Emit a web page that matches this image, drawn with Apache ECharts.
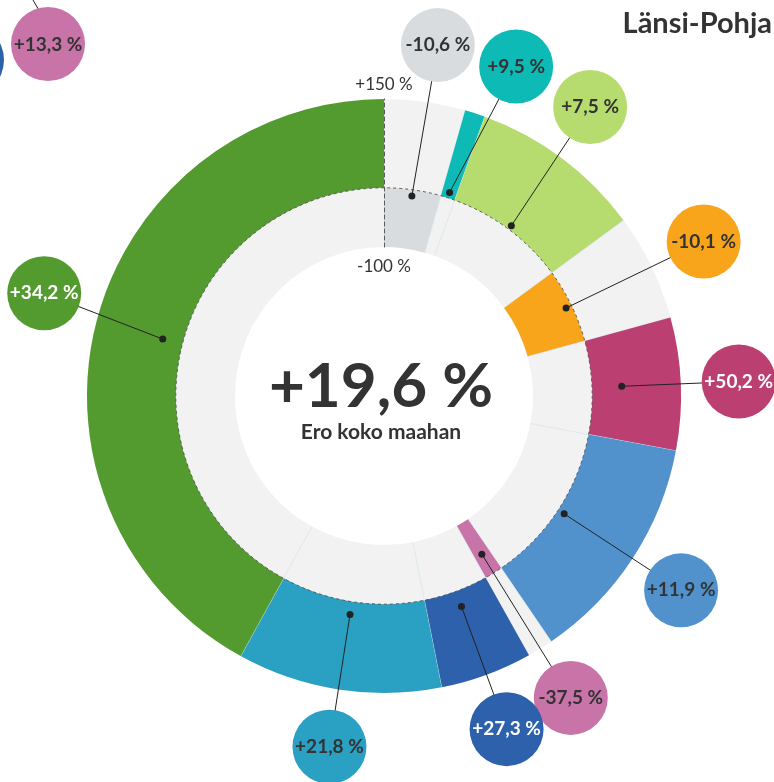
<!DOCTYPE html>
<html>
<head>
<meta charset="utf-8">
<title>Länsi-Pohja</title>
<script src="https://cdn.jsdelivr.net/npm/echarts@6/dist/echarts.min.js"></script>
<style>
html, body { margin: 0; padding: 0; background: #fff; }
#main { width: 774px; height: 782px; }
</style>
</head>
<body>
<div id="main"></div>
<script>
// osuus (kulma, %) ja ero koko maahan (säde, %)
var shares = [4.4, 1.1, 9.4, 5.8, 7.2, 12.5, 1.4, 5.0, 11.1, 41.9];
var diffs = [-10.6, 9.5, 7.5, -10.1, 50.2, 11.9, -37.5, 27.3, 21.8, 34.2];
var radiusTicks = [-100, 150];
var totalDiff = 19.6;
var regionName = 'Länsi-Pohja';
var subtitle = 'Ero koko maahan';

var colors = ['#d9dcdf', '#0dbab5', '#b6dc6f', '#f8a51c', '#bc3f72', '#5192cd', '#c874a9', '#2e61ab', '#2aa0c3', '#539b2f'];
var labelInk = ['#333', '#333', '#333', '#333', '#fff', '#333', '#333', '#fff', '#333', '#fff'];
// pieni siirto etteivät pallot mene päällekkäin (asteina)
var labelShiftDeg = [0.8, 4, -1.3, 0, 0, 0, 0, 0, 0, 2.4];
var LABEL_R = 355;
var FONT = 'Lato, "Noto Sans", sans-serif';

function fmt(v) {
    var s = Math.round(v) === v ? String(Math.abs(v)) : Math.abs(v).toFixed(1).replace('.', ',');
    return (v > 0 ? '+' : v < 0 ? '-' : '') + s + ' %';
}

var sectorData = [];
var acc = 0;
for (var i = 0; i < shares.length; i++) {
    sectorData.push([acc, acc + shares[i], diffs[i]]);
    acc += shares[i];
}
var shareSum = acc;

function dist(p, cx, cy) {
    return Math.sqrt((p[0] - cx) * (p[0] - cx) + (p[1] - cy) * (p[1] - cy));
}

function renderSector(params, api) {
    var cs = params.coordSys;
    var cx = cs.cx, cy = cs.cy;
    var a = api.value(0), b = api.value(1), v = api.value(2);
    var p0 = api.coord([radiusTicks[1], a]);
    var p1 = api.coord([radiusTicks[1], b]);
    var q0 = api.coord([radiusTicks[0], a]);
    var s = Math.atan2(p0[1] - cy, p0[0] - cx);
    var e = Math.atan2(p1[1] - cy, p1[0] - cx);
    while (e <= s) e += Math.PI * 2;
    var rIn = dist(q0, cx, cy);
    var rZero = dist(api.coord([0, a]), cx, cy);
    var rOut = dist(p0, cx, cy);
    var bar = v >= 0 ? [rZero, rOut] : [rIn, rZero];
    return {
        type: 'group',
        children: [
            {
                type: 'sector',
                shape: { cx: cx, cy: cy, r0: rIn, r: rOut, startAngle: s, endAngle: e, clockwise: true },
                style: { fill: '#f2f2f2' }
            },
            {
                type: 'line',
                shape: { x1: q0[0], y1: q0[1], x2: p0[0], y2: p0[1] },
                style: { stroke: '#d3e3ea', lineWidth: 0.7 }
            },
            {
                type: 'sector',
                shape: { cx: cx, cy: cy, r0: bar[0], r: bar[1], startAngle: s, endAngle: e, clockwise: true },
                style: { fill: colors[params.dataIndex] }
            }
        ]
    };
}

function renderDeco(params, api) {
    var cs = params.coordSys;
    var cx = cs.cx, cy = cs.cy;
    var rZero = dist(api.coord([0, 0]), cx, cy);
    var top = api.coord([radiusTicks[1], 0]);
    var bottom = api.coord([radiusTicks[0], 0]);
    return {
        type: 'group',
        children: [
            {
                type: 'circle',
                shape: { cx: cx, cy: cy, r: rZero },
                style: { fill: null, stroke: '#5a5a5a', lineWidth: 1, lineDash: [3, 3] }
            },
            {
                type: 'text',
                style: { text: fmt(radiusTicks[1]), x: top[0], y: top[1] - 14, align: 'center', verticalAlign: 'middle', font: '17px ' + FONT, fill: '#333' }
            },
            {
                type: 'text',
                style: { text: fmt(radiusTicks[0]), x: bottom[0], y: bottom[1] + 20, align: 'center', verticalAlign: 'middle', font: '17px ' + FONT, fill: '#333' }
            }
        ]
    };
}

function renderLabel(params, api) {
    var cs = params.coordSys;
    var cx = cs.cx, cy = cs.cy;
    var i = params.dataIndex;
    var mid = (api.value(0) + api.value(1)) / 2;
    var dot = api.coord([api.value(2), mid]);
    var la = mid + labelShiftDeg[i] / 360 * shareSum;
    var edge = api.coord([radiusTicks[1], la]);
    var len = dist(edge, cx, cy);
    var lx = cx + (edge[0] - cx) / len * LABEL_R;
    var ly = cy + (edge[1] - cy) / len * LABEL_R;
    return {
        type: 'group',
        children: [
            { type: 'line', shape: { x1: dot[0], y1: dot[1], x2: lx, y2: ly }, style: { stroke: '#222', lineWidth: 1 } },
            { type: 'circle', shape: { cx: dot[0], cy: dot[1], r: 3.5 }, style: { fill: '#222' } },
            { type: 'circle', shape: { cx: lx, cy: ly, r: 37 }, style: { fill: colors[i] } },
            {
                type: 'text',
                style: { text: fmt(api.value(2)), x: lx, y: ly, align: 'center', verticalAlign: 'middle', font: 'bold 19px ' + FONT, fill: labelInk[i] }
            }
        ]
    };
}

var myChart = echarts.init(document.getElementById('main'));

var option = {
    backgroundColor: '#fff',
    animation: false,
    polar: {
        center: [384, 396],
        radius: [149, 297]
    },
    angleAxis: {
        type: 'value',
        min: 0,
        max: shareSum,
        startAngle: 90,
        clockwise: true,
        show: false
    },
    radiusAxis: {
        type: 'value',
        min: radiusTicks[0],
        max: radiusTicks[1],
        z: 10,
        axisLine: { show: true, lineStyle: { color: '#5a5a5a', width: 1, type: [4, 3] } },
        axisTick: { show: false },
        axisLabel: { show: false },
        splitLine: { show: false }
    },
    graphic: [
        {
            type: 'text', x: 772, y: 24,
            style: { text: regionName, font: 'bold 29px ' + FONT, fill: '#333', align: 'right', verticalAlign: 'middle' }
        },
        {
            type: 'text', x: 381, y: 387,
            style: { text: fmt(totalDiff), font: 'bold 62px ' + FONT, fill: '#333', align: 'center', verticalAlign: 'middle' }
        },
        {
            type: 'text', x: 381, y: 432,
            style: { text: subtitle, font: 'bold 21px ' + FONT, fill: '#333', align: 'center', verticalAlign: 'middle' }
        },
        // rajautuneet naapurikuvan pallot
        { type: 'line', shape: { x1: 33, y1: 0, x2: 40, y2: 12 }, style: { stroke: '#222', lineWidth: 1 } },
        { type: 'circle', shape: { cx: 48, cy: 44, r: 37 }, style: { fill: '#c874a9' } },
        {
            type: 'text', x: 48, y: 45,
            style: { text: fmt(13.3), font: 'bold 19px ' + FONT, fill: '#333', align: 'center', verticalAlign: 'middle' }
        },
        { type: 'circle', shape: { cx: -33, cy: 60, r: 37 }, style: { fill: '#2e61ab' } }
    ],
    series: [
        {
            type: 'custom',
            coordinateSystem: 'polar',
            renderItem: renderSector,
            clip: false,
            z: 2,
            data: sectorData
        },
        {
            type: 'custom',
            coordinateSystem: 'polar',
            renderItem: renderDeco,
            clip: false,
            z: 3,
            data: [[0, 0]]
        },
        {
            type: 'custom',
            coordinateSystem: 'polar',
            renderItem: renderLabel,
            clip: false,
            z: 4,
            data: sectorData
        }
    ]
};

myChart.setOption(option);
</script>
</body>
</html>
